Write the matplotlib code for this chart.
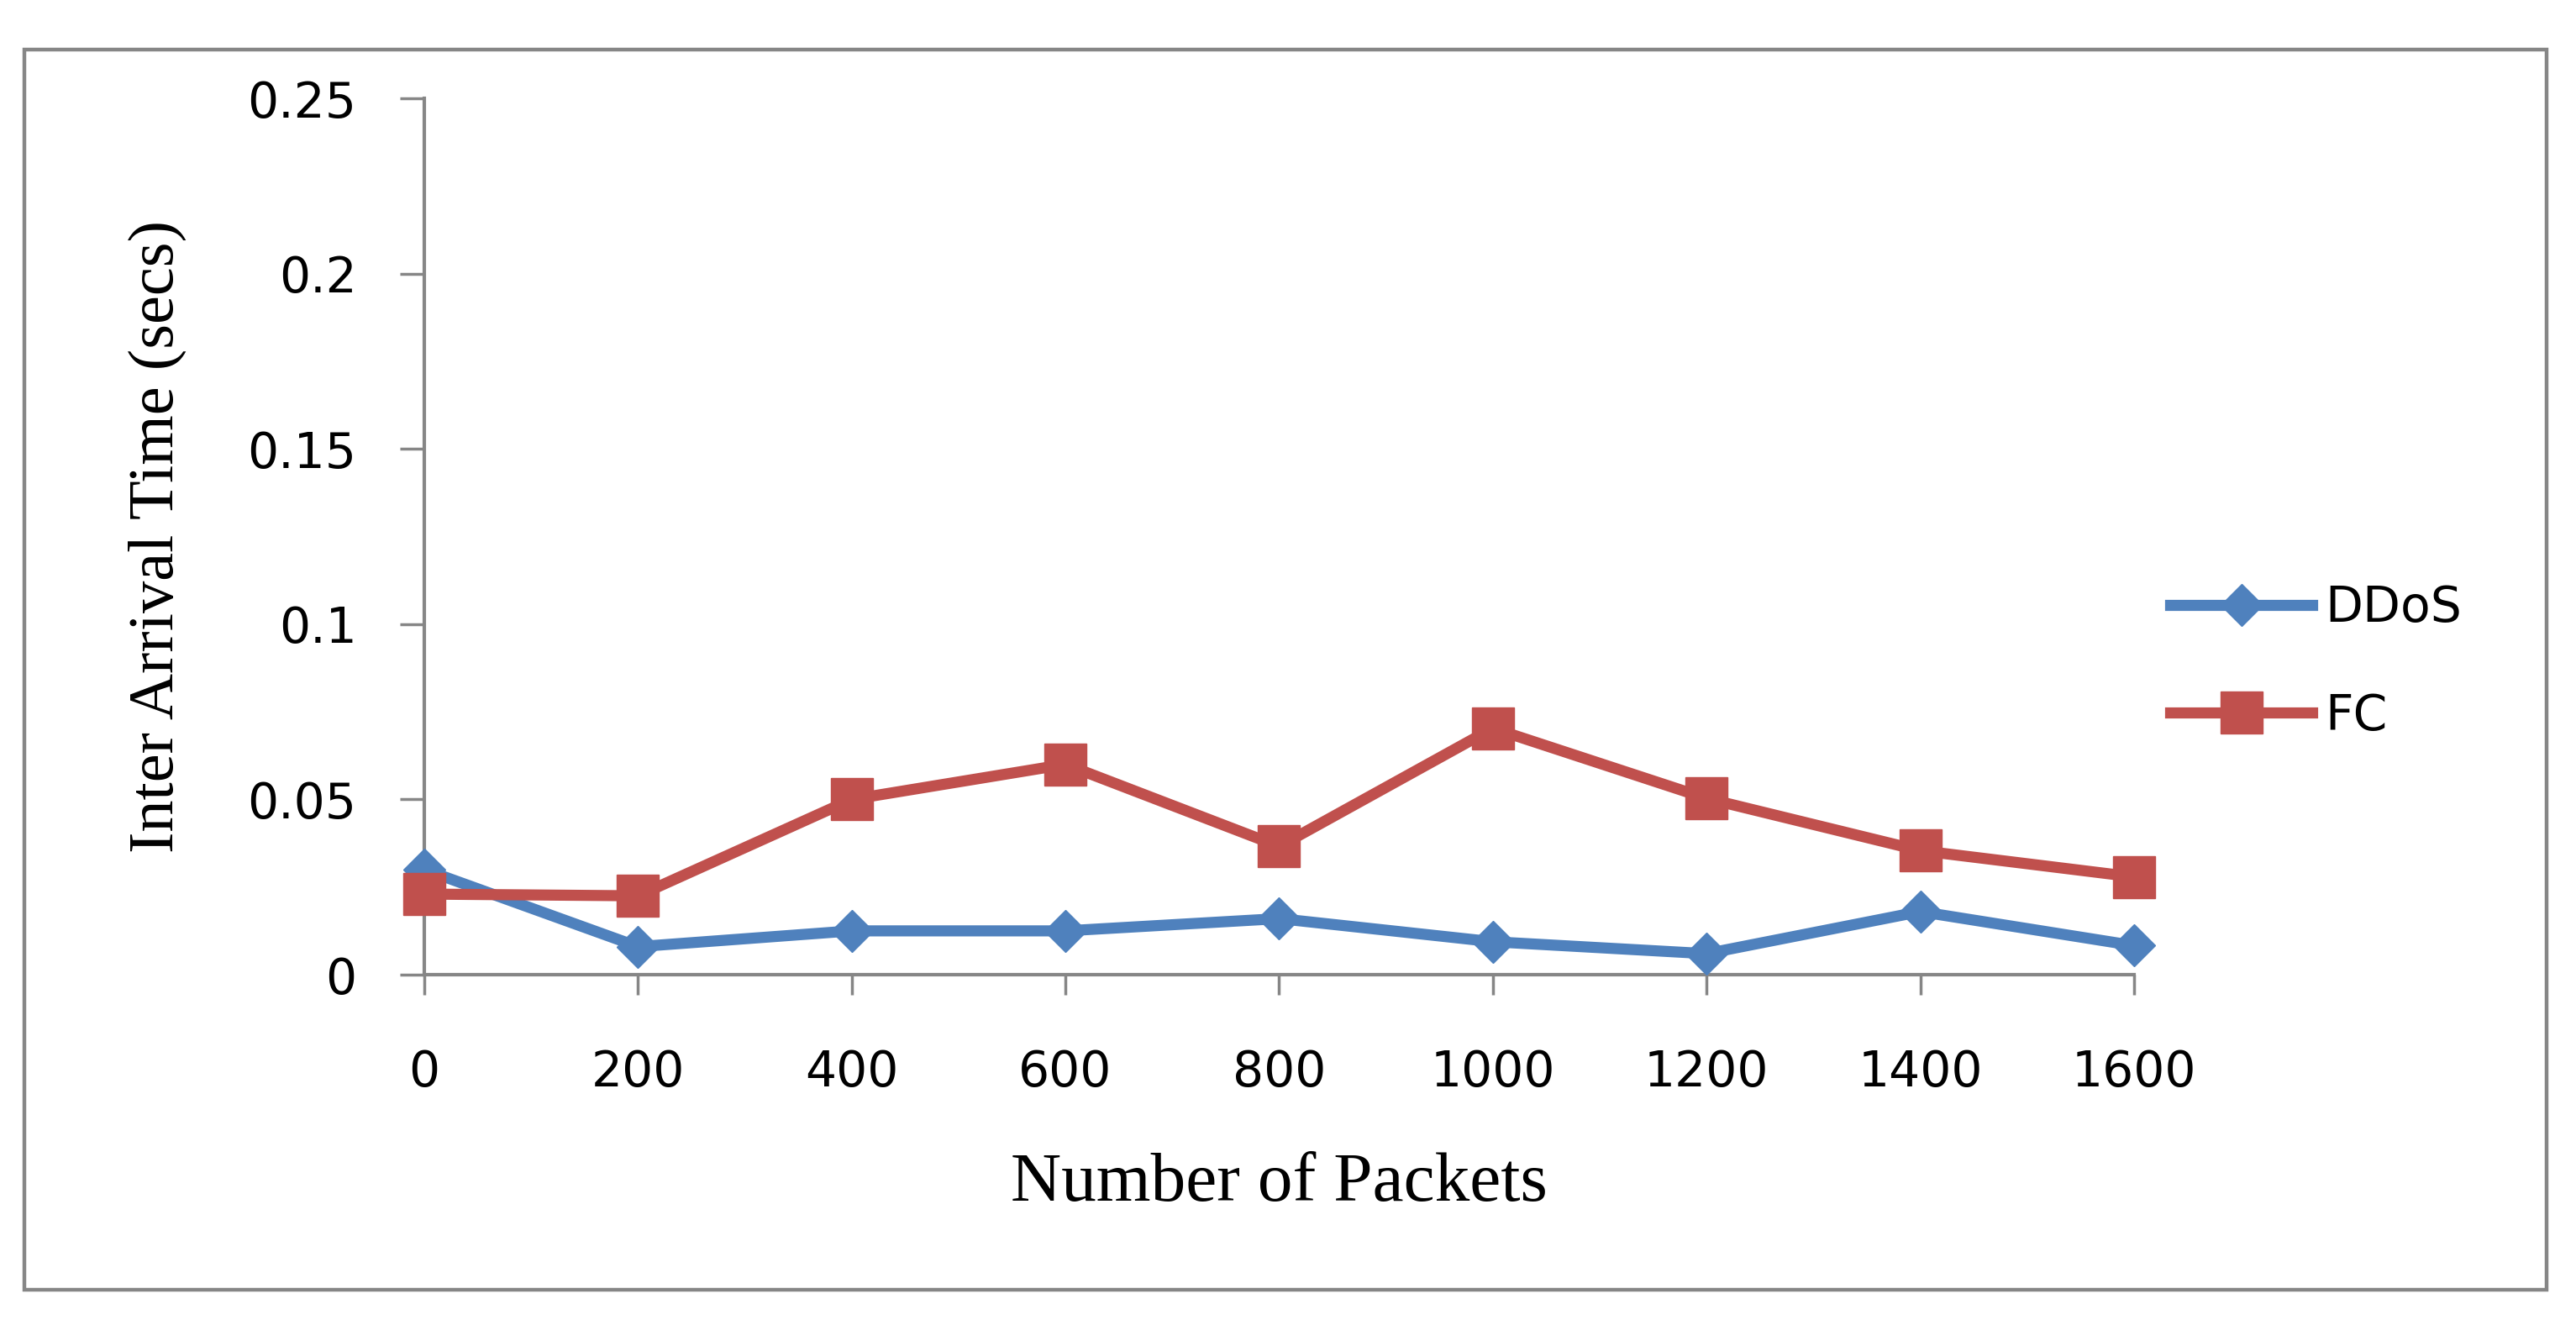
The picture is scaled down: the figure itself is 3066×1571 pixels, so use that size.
import matplotlib.pyplot as plt
from matplotlib.patches import Rectangle

# values
packets = [0, 200, 400, 600, 800, 1000, 1200, 1400, 1600]
ddos = [0.030, 0.008, 0.0125, 0.0125, 0.016, 0.0094, 0.006, 0.018, 0.0083]
fc = [0.023, 0.0225, 0.050, 0.060, 0.0366, 0.0703, 0.0503, 0.0354, 0.0279]
y_ticks = [0, 0.05, 0.1, 0.15, 0.2, 0.25]
y_labels = ['0', '0.05', '0.1', '0.15', '0.2', '0.25']

gray = '#868686'
blue = '#4F81BD'
red = '#C0504D'

fig = plt.figure(figsize=(30.66, 15.71), dpi=100)
ax = fig.add_axes([0.1647, 0.2616, 0.8284 - 0.1647, 0.9255 - 0.2616])

# outer chart border
fig.patches.append(Rectangle((0.0095, 0.0229), 0.9791, 0.9395, transform=fig.transFigure,
                             fill=False, edgecolor=gray, linewidth=3.2))

ax.plot(packets, ddos, color=blue, linewidth=9.5, marker='D', markersize=25,
        label='DDoS', clip_on=False, zorder=3)
ax.plot(packets, fc, color=red, linewidth=9.5, marker='s', markersize=36,
        label='FC', clip_on=False, zorder=4)

ax.set_xlim(0, 1600)
ax.set_ylim(0, 0.25)
ax.set_xticks(packets)
ax.set_xticklabels([str(p) for p in packets])
ax.set_yticks(y_ticks)
ax.set_yticklabels(y_labels)

for side in ['top', 'right']:
    ax.spines[side].set_visible(False)
for side in ['left', 'bottom']:
    ax.spines[side].set_color(gray)
    ax.spines[side].set_linewidth(3)

ax.tick_params(axis='x', direction='out', length=17, width=2.5, color=gray,
               labelsize=42, pad=46)
ax.tick_params(axis='y', direction='out', length=21, width=2.5, color=gray,
               labelsize=42, pad=37)

ax.set_xlabel('Number of Packets', family='Liberation Serif', fontsize=60, labelpad=48)
ax.set_ylabel('Inter Arrival Time (secs)', family='Liberation Serif', fontsize=55, labelpad=52)

ax.legend(loc='center left', bbox_to_anchor=(0.8425, 0.4984), bbox_transform=fig.transFigure,
          frameon=False, fontsize=42, numpoints=1, handlelength=2.9, handletextpad=0.26,
          labelspacing=1.22, borderpad=0, borderaxespad=0)

fig.savefig('out.png', dpi=100)
